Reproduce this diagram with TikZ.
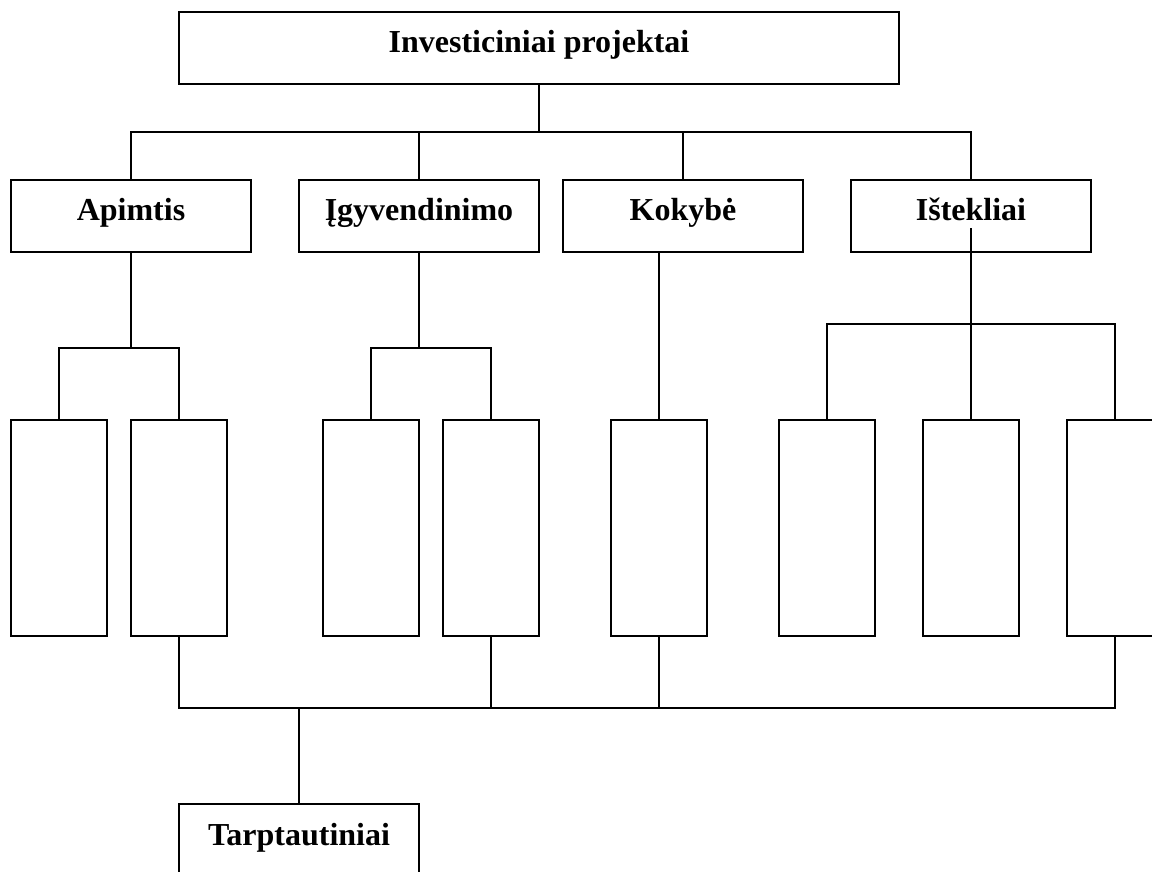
\documentclass[tikz,border=0pt]{standalone}
\usepackage{fontspec}
\setmainfont{Liberation Serif}
\begin{document}
\begin{tikzpicture}[x=1pt,y=-1pt,
  wire/.style={line width=1.7pt},
  box/.style={draw,line width=1.7pt,rectangle,inner sep=0pt,outer sep=0pt,
    minimum width=#1,minimum height=72pt,text height=41pt,text depth=31pt,
    font=\fontsize{32}{38}\selectfont\bfseries,anchor=north},
  tall/.style={draw,line width=1.7pt,rectangle,inner sep=0pt,outer sep=0pt,
    minimum width=96pt,minimum height=216pt,anchor=north}]
\useasboundingbox (0,0) rectangle (1152,872);

% headline and the four groups
\node[box=720pt] (top)   at (539,12)  {Investiciniai projektai};
\node[box=240pt] (apim)  at (131,180) {Apimtis};
\node[box=240pt] (igyv)  at (419,180) {Įgyvendinimo};
\node[box=240pt] (koky)  at (683,180) {Kokybė};
\node[box=240pt] (istek) at (971,180) {Ištekliai};

% empty sub-boxes
\node[tall] (a1) at (59,420)   {};
\node[tall] (a2) at (179,420)  {};
\node[tall] (g1) at (371,420)  {};
\node[tall] (g2) at (491,420)  {};
\node[tall] (k1) at (659,420)  {};
\node[tall] (s1) at (827,420)  {};
\node[tall] (s2) at (971,420)  {};
\node[tall] (s3) at (1115,420) {};

% result box
\node[box=240pt] (tarp) at (299,804) {Tarptautiniai};

% junction points
\coordinate (hub) at (539,132);
\coordinate (aj)  at (131,348);
\coordinate (ij)  at (419,348);
\coordinate (sj)  at (971,324);
\coordinate (bj)  at (299,708);

% headline to groups
\draw[wire] (top.south) -- (hub);
\draw[wire] (apim.north) |- (hub) -| (istek.north);
\draw[wire] (igyv.north) -- (igyv.north |- hub);
\draw[wire] (koky.north) -- (koky.north |- hub);

% groups to sub-boxes
\draw[wire] (apim.south) -- (aj);
\draw[wire] (a1.north) |- (aj) -| (a2.north);
\draw[wire] (igyv.south) -- (ij);
\draw[wire] (g1.north) |- (ij) -| (g2.north);
\draw[wire] (k1.north) -- (k1.north |- koky.south);
\draw[wire] ([yshift=24pt]istek.south) -- (s2.north);
\draw[wire] (s1.north) |- (sj) -| (s3.north);

% sub-boxes to the result
\draw[wire] (a2.south) -- (a2.south |- bj) -| (s3.south);
\draw[wire] (g2.south) -- (g2.south |- bj);
\draw[wire] (k1.south) -- (k1.south |- bj);
\draw[wire] (bj) -- (tarp.north);
\end{tikzpicture}
\end{document}
